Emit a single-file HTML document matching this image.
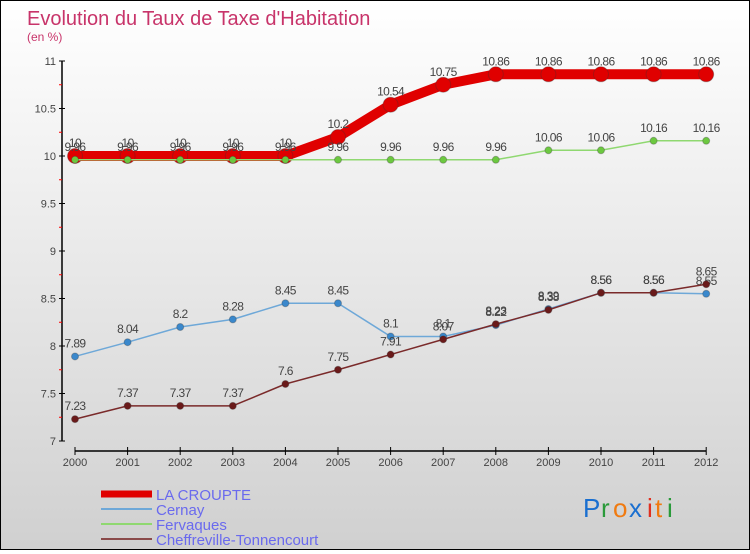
<!DOCTYPE html>
<html><head><meta charset="utf-8"><style>
body{margin:0;width:750px;height:550px;overflow:hidden}
#c{position:absolute;left:0;top:0;width:748px;height:548px;border:1px solid #000;background:linear-gradient(#fff,#d0d0d0)}
text{font-family:"Liberation Sans",sans-serif}
</style></head><body>
<div id="c">
<svg id="s" width="748" height="548" xmlns="http://www.w3.org/2000/svg">
<text x="26" y="24" font-size="20" fill="#c8346a">Evolution du Taux de Taxe d'Habitation</text>
<text x="26" y="40" font-size="12" fill="#c8346a">(en %)</text>
<g id="axes"></g><g id="series"></g><g id="legend"></g>
<g font-size="26">
<text x="582" y="516" fill="#1a6fd0">P</text><text x="600" y="516" fill="#2a9a3a">r</text><text x="612" y="516" fill="#f07a10">o</text><text x="628" y="516" fill="#1a6fd0">x</text><text x="646" y="516" fill="#e03020">i</text><text x="654" y="516" fill="#f07a10">t</text><text x="666" y="516" fill="#2a9a3a">i</text>
</g>
</svg></div>
<script>
const years=[2000,2001,2002,2003,2004,2005,2006,2007,2008,2009,2010,2011,2012];
const laCroupte=[10,10,10,10,10,10.2,10.54,10.75,10.86,10.86,10.86,10.86,10.86];
const cernay=[7.89,8.04,8.2,8.28,8.45,8.45,8.1,8.1,8.22,8.39,8.56,8.56,8.55];
const fervaques=[9.96,9.96,9.96,9.96,9.96,9.96,9.96,9.96,9.96,10.06,10.06,10.16,10.16];
const cheffreville=[7.23,7.37,7.37,7.37,7.6,7.75,7.91,8.07,8.23,8.38,8.56,8.56,8.65];
const yTicks=[7,7.5,8,8.5,9,9.5,10,10.5,11];
const NS="http://www.w3.org/2000/svg";
const X=i=>74+i*52.6, Y=v=>155-(v-10)*95;
function el(t,a,p){const e=document.createElementNS(NS,t);for(const k in a)e.setAttribute(k,a[k]);p.appendChild(e);return e;}
const ax=document.getElementById('axes');
let l=el('line',{x1:61,y1:Y(11),x2:61,y2:Y(7),stroke:'#000','stroke-width':1.5},ax);


l=el('line',{x1:X(0),y1:450,x2:X(12),y2:450,stroke:'#000','stroke-width':1.5},ax);


yTicks.forEach((v,i)=>{
 el('line',{x1:58,y1:Y(v),x2:64,y2:Y(v),stroke:'#000'},ax);
 if(i<yTicks.length-1)el('line',{x1:58,y1:Y(v+0.25),x2:61,y2:Y(v+0.25),stroke:'#f00'},ax);
 const t=el('text',{x:55,y:Y(v)+4,'font-size':11,fill:'#444','text-anchor':'end'},ax);t.textContent=String(v);
 
 
});
years.forEach((yr,i)=>{
 el('line',{x1:X(i),y1:446,x2:X(i),y2:454,stroke:'#000'},ax);
 const t=el('text',{x:X(i),y:465,'font-size':11,fill:'#444','text-anchor':'middle'},ax);t.textContent=yr;
 
 
});
const sg=document.getElementById('series');
function draw(vals,color,w,r,name,fill){
 const g=el('g',{},sg);
 
 
 el('polyline',{points:vals.map((v,i)=>X(i)+','+Y(v)).join(' '),fill:'none',stroke:color,'stroke-width':w,'stroke-linejoin':'round'},g);
 vals.forEach((v,i)=>{
  const c=el('circle',{cx:X(i),cy:Y(v),r:r,fill:fill,stroke:'#333','stroke-opacity':0.3},g);
  
  
  const t=el('text',{x:X(i),y:Y(v)-9,'font-size':12,fill:'#444','text-anchor':'middle','letter-spacing':'-0.6'},g);t.textContent=String(v);
 });
}
draw(laCroupte,'#e00000',10,7.5,'series-la-croupte','#e00000');
draw(cernay,'#6ea8d8',1.5,3.5,'series-cernay','#3a88cc');
draw(fervaques,'#8fd870',1.5,3.5,'series-fervaques','#6cc840');
draw(cheffreville,'#7a2a2a',1.5,3.5,'series-cheffreville','#6a1a1a');
const lg=document.getElementById('legend');
[['LA CROUPTE','#e00000',7],['Cernay','#6ea8d8',2],['Fervaques','#8fd870',2],['Cheffreville-Tonnencourt','#8a4a4a',2]].forEach((d,i)=>{
 const y=493+i*15;
 const g=el('g',{},lg);
 
 
 el('line',{x1:100,y1:y,x2:151,y2:y,stroke:d[1],'stroke-width':d[2]},g);
 const t=el('text',{x:155,y:y+6,'font-size':15,fill:'#6a6aee'},g);t.textContent=d[0];
});
</script>
</body></html>
